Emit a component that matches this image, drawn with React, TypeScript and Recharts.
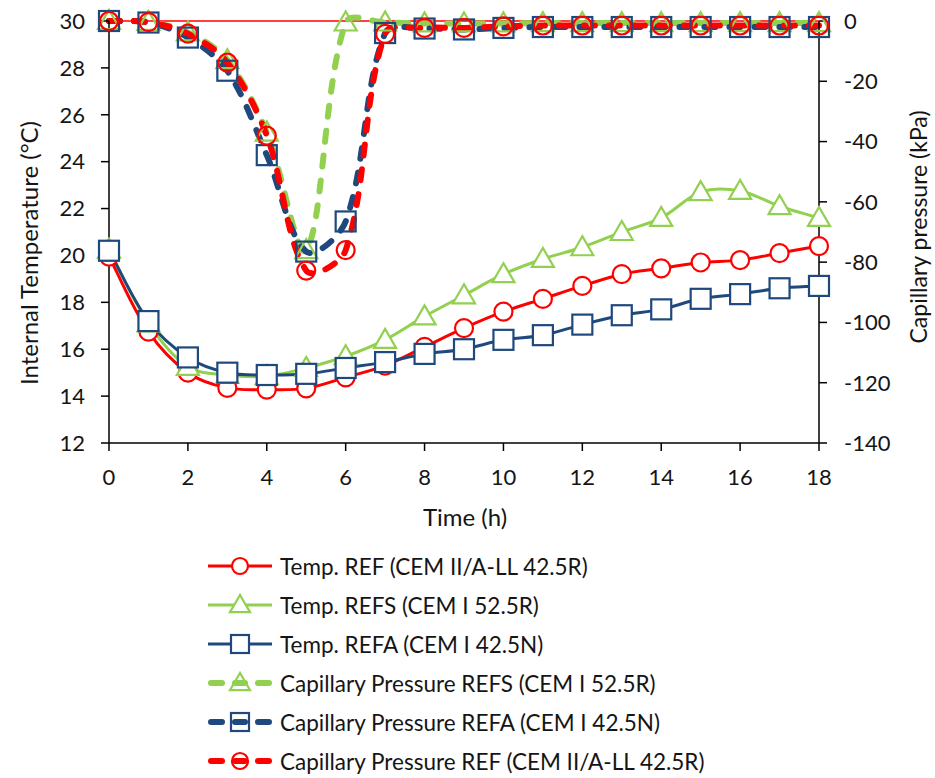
import React from 'react';
import { LineChart, Line, XAxis, YAxis, ReferenceLine, Legend } from 'recharts';

// Time after casting (h)
const hours = [0, 1, 2, 3, 4, 5, 6, 7, 8, 9, 10, 11, 12, 13, 14, 15, 16, 17, 18];

// Internal temperature (°C)
const tempREF = [19.95, 16.75, 15.0, 14.35, 14.28, 14.33, 14.8, 15.3, 16.1, 16.9, 17.6, 18.15, 18.7, 19.2, 19.45, 19.7, 19.8, 20.1, 20.4];
const tempREFS = [20.25, 17.1, 15.25, 14.9, 14.85, 15.2, 15.7, 16.4, 17.4, 18.3, 19.2, 19.85, 20.35, 21.0, 21.6, 22.7, 22.75, 22.1, 21.6];
const tempREFA = [20.2, 17.2, 15.65, 15.0, 14.9, 14.95, 15.2, 15.45, 15.8, 16.0, 16.4, 16.6, 17.05, 17.45, 17.7, 18.15, 18.35, 18.6, 18.7];

// Capillary pressure (kPa)
const capREFS = [0, -0.3, -3.8, -13, -37, -76, -0.5, -0.5, -0.8, -0.8, -0.8, -0.7, -0.7, -0.7, -0.7, -0.7, -0.7, -0.7, -0.7];
const capREFA = [0, -0.5, -5.5, -16.5, -44.5, -76.5, -66.5, -4, -2.5, -2.8, -2.3, -2, -2, -2, -2, -2, -2, -2, -2];
const capREF = [0, -0.4, -4.2, -13.8, -38, -82.8, -76, -4.3, -2.3, -2.3, -1.8, -1.5, -1.5, -1.5, -1.5, -1.5, -1.5, -1.5, -1.5];

// Axis ticks
const hourTicks = [0, 2, 4, 6, 8, 10, 12, 14, 16, 18];
const tempTicks = [12, 14, 16, 18, 20, 22, 24, 26, 28, 30];
const pressureTicks = [-140, -120, -100, -80, -60, -40, -20, 0];

const rows = hours.map((h, i) => ({
  h,
  tREF: tempREF[i],
  tREFS: tempREFS[i],
  tREFA: tempREFA[i],
  pREFS: capREFS[i],
  pREFA: capREFA[i],
  pREF: capREF[i],
}));

const RED = '#FF0000';
const GREEN = '#92D050';
const BLUE = '#1F497D';
const FONT = 'Lato, "Open Sans", sans-serif';
const INK = '#151515';

type Shape = 'circle' | 'triangle' | 'square';

interface SeriesDef {
  key: string;
  name: string;
  axis: 't' | 'p';
  color: string;
  shape: Shape;
  dashed: boolean;
}

const series: SeriesDef[] = [
  { key: 'tREF', name: 'Temp. REF (CEM II/A-LL 42.5R)', axis: 't', color: RED, shape: 'circle', dashed: false },
  { key: 'tREFS', name: 'Temp. REFS (CEM I 52.5R)', axis: 't', color: GREEN, shape: 'triangle', dashed: false },
  { key: 'tREFA', name: 'Temp. REFA (CEM I 42.5N)', axis: 't', color: BLUE, shape: 'square', dashed: false },
  { key: 'pREFS', name: 'Capillary Pressure REFS (CEM I 52.5R)', axis: 'p', color: GREEN, shape: 'triangle', dashed: true },
  { key: 'pREFA', name: 'Capillary Pressure REFA (CEM I 42.5N)', axis: 'p', color: BLUE, shape: 'square', dashed: true },
  { key: 'pREF', name: 'Capillary Pressure REF (CEM II/A-LL 42.5R)', axis: 'p', color: RED, shape: 'circle', dashed: true },
];

// Smoothed line: cubic Bézier segments whose handles follow the neighbour
// chord and are scaled by the adjacent segment lengths (limits overshoot).
function smoothCurve(context: any) {
  let pts: [number, number][] = [];
  const dist = (a: [number, number], b: [number, number]) => Math.hypot(b[0] - a[0], b[1] - a[1]);
  return {
    areaStart() {},
    areaEnd() {},
    lineStart() {
      pts = [];
    },
    point(x: number, y: number) {
      pts.push([+x, +y]);
    },
    lineEnd() {
      const n = pts.length;
      if (!n) return;
      context.moveTo(pts[0][0], pts[0][1]);
      // tangent handles for every point
      const outH: [number, number][] = [];
      const inH: [number, number][] = [];
      for (let i = 0; i < n; i++) {
        const p0 = pts[Math.max(i - 1, 0)];
        const p1 = pts[i];
        const p2 = pts[Math.min(i + 1, n - 1)];
        const d01 = dist(p0, p1);
        const d12 = dist(p1, p2);
        const tot = d01 + d12 || 1;
        const tx = p2[0] - p0[0];
        const ty = p2[1] - p0[1];
        const fo = d12 / (3 * tot);
        const fi = d01 / (3 * tot);
        outH.push([p1[0] + tx * fo, p1[1] + ty * fo]);
        inH.push([p1[0] - tx * fi, p1[1] - ty * fi]);
      }
      for (let i = 0; i < n - 1; i++) {
        const c1 = outH[i];
        const c2 = inH[i + 1];
        const p2 = pts[i + 1];
        context.bezierCurveTo(c1[0], c1[1], c2[0], c2[1], p2[0], p2[1]);
      }
    },
  };
}

function Marker({ shape, cx, cy, color, fill, r = 10, sw = 2.2 }: { shape: Shape; cx: number; cy: number; color: string; fill: string; r?: number; sw?: number }) {
  if (shape === 'circle') {
    return <circle cx={cx} cy={cy} r={r - 1} fill={fill} stroke={color} strokeWidth={sw} />;
  }
  if (shape === 'square') {
    return <rect x={cx - r} y={cy - r} width={2 * r} height={2 * r} fill={fill} stroke={color} strokeWidth={sw} />;
  }
  const pts = `${cx},${cy - r - 1} ${cx - r - 1},${cy + r * 0.8} ${cx + r + 1},${cy + r * 0.8}`;
  return <polygon points={pts} fill={fill} stroke={color} strokeWidth={sw} strokeLinejoin="miter" />;
}

function LegendBlock() {
  const top = 21;
  const step = 39;
  return (
    <svg width={935} height={233} style={{ display: 'block', overflow: 'visible' }}>
      {series.map((s, i) => {
        const y = top + i * step;
        return (
          <g key={s.key}>
            {s.dashed ? (
              <g stroke={s.color} strokeWidth={6} strokeLinecap="round">
                <line x1={211} y1={y} x2={222} y2={y} />
                <line x1={235} y1={y} x2={245} y2={y} />
                <line x1={258} y1={y} x2={269} y2={y} />
              </g>
            ) : (
              <line x1={208} y1={y} x2={272} y2={y} stroke={s.color} strokeWidth={3} />
            )}
            <Marker shape={s.shape} cx={240} cy={y} color={s.color} fill={s.dashed ? 'none' : '#fff'} r={9} />
            <text x={280} y={y} dominantBaseline="central" fontFamily={FONT} fontSize={22.5} fill={INK}>
              {s.name}
            </text>
          </g>
        );
      })}
    </svg>
  );
}

const tickStyle = { fontSize: 22, fill: INK, fontFamily: FONT };
const axisStroke = { stroke: '#000', strokeWidth: 1.5 };

function XTitle(props: any) {
  const vb = props.viewBox || { x: 109, y: 443, width: 710, height: 100 };
  return (
    <text x={vb.x + vb.width / 2 + 1} y={vb.y + 83} textAnchor="middle" fontFamily={FONT} fontSize={24} fill={INK}>
      Time (h)
    </text>
  );
}

function LeftTitle(props: any) {
  const vb = props.viewBox || { x: 0, y: 21, width: 109, height: 422 };
  const x = vb.x + 38;
  const y = vb.y + vb.height / 2 + 21;
  return (
    <text x={x} y={y} transform={`rotate(-90 ${x} ${y})`} textAnchor="middle" fontFamily={FONT} fontSize={24} fill={INK}>
      Internal Temperature (°C)
    </text>
  );
}

function RightTitle(props: any) {
  const vb = props.viewBox || { x: 819, y: 21, width: 116, height: 422 };
  const x = vb.x + 108;
  const y = vb.y + vb.height / 2 - 5;
  return (
    <text x={x} y={y} transform={`rotate(-90 ${x} ${y})`} textAnchor="middle" fontFamily={FONT} fontSize={23} fill={INK}>
      Capillary pressure (kPa)
    </text>
  );
}

export default function App() {
  return (
    <div style={{ position: 'absolute', left: 0, top: 0, width: 935, height: 778, background: '#fff' }}>
      <LineChart width={935} height={778} data={rows} margin={{ top: 21, right: 0, bottom: 235, left: 0 }}>
        <XAxis
          dataKey="h"
          type="number"
          domain={[0, 18]}
          ticks={hourTicks}
          height={100}
          tickSize={8}
          tickMargin={18}
          axisLine={axisStroke}
          tickLine={axisStroke}
          tick={tickStyle}
          label={<XTitle />}
        />
        <YAxis
          yAxisId="t"
          domain={[12, 30]}
          ticks={tempTicks}
          width={109}
          tickSize={8}
          tickMargin={16}
          axisLine={axisStroke}
          tickLine={axisStroke}
          tick={tickStyle}
          label={<LeftTitle />}
        />
        <YAxis
          yAxisId="p"
          orientation="right"
          domain={[-140, 0]}
          ticks={pressureTicks}
          width={116}
          tickSize={8}
          tickMargin={17}
          axisLine={axisStroke}
          tickLine={axisStroke}
          tick={tickStyle}
          label={<RightTitle />}
        />
        <ReferenceLine yAxisId="p" y={0} stroke={RED} strokeWidth={1.4} />
        {series.map((s) => (
          <Line
            key={s.key}
            yAxisId={s.axis}
            dataKey={s.key}
            name={s.name}
            type={smoothCurve as any}
            stroke={s.color}
            strokeWidth={s.dashed ? 6 : 3}
            strokeDasharray={s.dashed ? '11 14' : undefined}
            strokeLinecap={s.dashed ? 'round' : 'butt'}
            isAnimationActive={false}
            activeDot={false}
            legendType="none"
            dot={(p: any) => (
              <Marker
                key={`${s.key}-${p.index}`}
                shape={s.shape}
                cx={p.cx}
                cy={p.cy}
                color={s.color}
                fill={s.dashed ? 'none' : '#fff'}
              />
            )}
          />
        ))}
        <Legend
          layout="vertical"
          verticalAlign="middle"
          align="center"
          wrapperStyle={{ left: 0, top: 545, width: 935, height: 233 }}
          content={() => <LegendBlock />}
        />
      </LineChart>
    </div>
  );
}
